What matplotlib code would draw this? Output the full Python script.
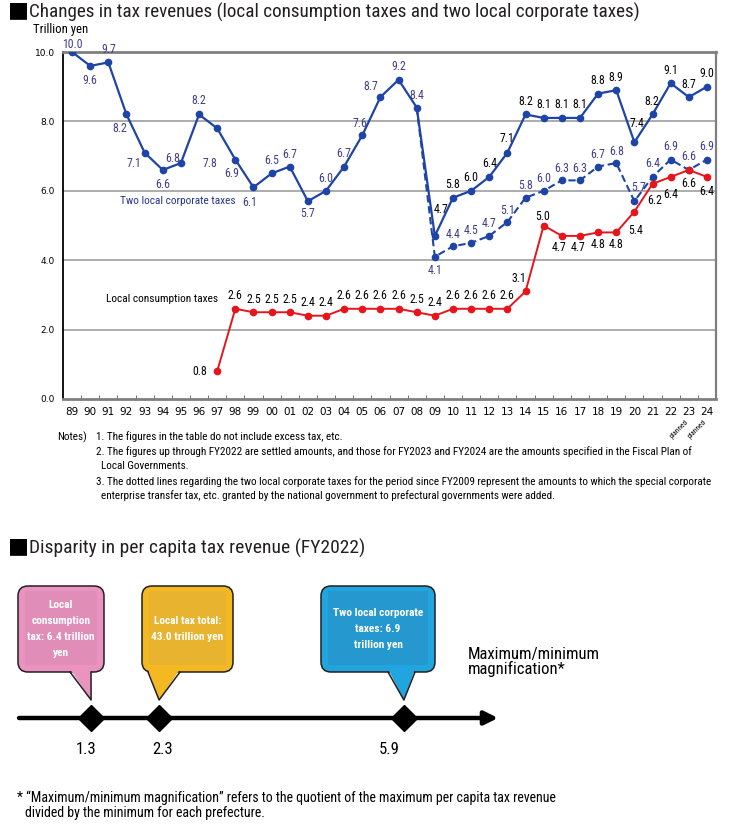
import matplotlib
matplotlib.use("Agg")
import matplotlib.pyplot as plt
from matplotlib.patches import FancyBboxPatch, Polygon, Rectangle

plt.rcParams['font.family'] = ['Roboto Condensed', 'PT Sans Narrow', 'Archivo Narrow',
                               'Liberation Sans Narrow', 'DejaVu Sans']

# ---------- DATA ----------
years = ["89", "90", "91", "92", "93", "94", "95", "96", "97", "98", "99",
         "00", "01", "02", "03", "04", "05", "06", "07", "08", "09", "10",
         "11", "12", "13", "14", "15", "16", "17", "18", "19", "20", "21",
         "22", "23", "24"]
planned_years = ["23", "24"]

# two local corporate taxes (trillion yen), FY1989-FY2024
corporate = [10.0, 9.6, 9.7, 8.2, 7.1, 6.6, 6.8, 8.2, 7.8, 6.9, 6.1,
             6.5, 6.7, 5.7, 6.0, 6.7, 7.6, 8.7, 9.2, 8.4, 4.7, 5.8,
             6.0, 6.4, 7.1, 8.2, 8.1, 8.1, 8.1, 8.8, 8.9, 7.4, 8.2,
             9.1, 8.7, 9.0]
# incl. special corporate enterprise transfer tax, FY2009-FY2024
corporate_added_start = "09"
corporate_added = [4.1, 4.4, 4.5, 4.7, 5.1, 5.8, 6.0, 6.3, 6.3, 6.7, 6.8,
                   5.7, 6.4, 6.9, 6.6, 6.9]
# local consumption taxes, FY1997-FY2024
consumption_start = "97"
consumption = [0.8, 2.6, 2.5, 2.5, 2.5, 2.4, 2.4, 2.6, 2.6, 2.6, 2.6,
               2.5, 2.4, 2.6, 2.6, 2.6, 2.6, 3.1, 5.0, 4.7, 4.7, 4.8,
               4.8, 5.4, 6.2, 6.4, 6.6, 6.4]

ratio_names = ["Local\nconsumption\ntax: 6.4 trillion\nyen",
               "Local tax total:\n43.0 trillion yen",
               "Two local corporate\ntaxes: 6.9\ntrillion yen"]
ratios = [1.3, 2.3, 5.9]

notes = [
    "1. The figures in the table do not include excess tax, etc.",
    "2. The figures up through FY2022 are settled amounts, and those for FY2023 and FY2024 are the amounts specified in the Fiscal Plan of",
    "  Local Governments.",
    "3. The dotted lines regarding the two local corporate taxes for the period since FY2009 represent the amounts to which the special corporate",
    "  enterprise transfer tax, etc. granted by the national government to prefectural governments were added.",
]

# ---------- LABEL PLACEMENT (pixel offsets) ----------
corp_off = [(0, 8), (0, -15), (0, 13), (-7, -14), (-11, -11), (0, -15), (-8, 5),
            (0, 14), (-7, -35), (-4, -14), (-4, -15), (0, 13), (0, 12), (0, -12),
            (0, 12), (0, 13), (-2, 12), (-10, 11), (0, 13), (0, 12), (6, 26),
            (0, 13), (0, 13), (0, 13), (0, 14), (0, 13), (0, 13), (0, 13),
            (0, 13), (0, 13), (0, 13), (3, 19), (-1, 13), (0, 13), (0, 13), (0, 13)]
added_off = [(0, -14)] + [(0, 12)] * 10 + [(4, 14)] + [(0, 13)] * 4
cons_off = [(-17, 0)] + [(0, 13)] * 16 + [(-7, 13), (-1, 9), (-3, -12), (-2, -12),
            (0, -12), (0, -12), (1, -19), (2, -17), (0, -18), (0, -14), (0, -15)]

BLUE = "#1f44a8"
LBL_BLUE = "#3e3d8c"
RED = "#e8141c"

fig = plt.figure(figsize=(7.34, 8.32), dpi=100)

# overlay in pixel coordinates for titles, notes and the diagram
ov = fig.add_axes([0, 0, 1, 1])
ov.set_xlim(0, 734)
ov.set_ylim(832, 0)
ov.axis("off")

# ---------- LINE CHART ----------
ax = fig.add_axes([63 / 734, 1 - 399 / 832, 653 / 734, 347 / 832])
xs = list(range(len(years)))
i_add = years.index(corporate_added_start)
i_con = years.index(consumption_start)
x_add = xs[i_add:]
x_con = xs[i_con:]

ax.plot(xs, corporate, color=BLUE, lw=1.6, marker="o", ms=4.5, zorder=4)
# dashed line starts from the FY2008 point
ax.plot([xs[i_add - 1]] + x_add, [corporate[i_add - 1]] + corporate_added,
        color=BLUE, lw=1.5, ls=(0, (3.5, 1.8)), zorder=3)
ax.plot(x_add, corporate_added, color=BLUE, lw=0, marker="o", ms=4.5, zorder=3)
ax.plot(x_con, consumption, color=RED, lw=1.4, marker="o", ms=4.5, zorder=4)

k = 0.72  # px -> pt
for i, (x, v) in enumerate(zip(xs, corporate)):
    c = LBL_BLUE if i < i_add else "black"
    dx, dy = corp_off[i]
    ax.annotate(f"{v:.1f}", (x, v), xytext=(dx * k, dy * k), textcoords="offset points",
                ha="center", va="center", fontsize=8.5, color=c, zorder=6)
for i, (x, v) in enumerate(zip(x_add, corporate_added)):
    dx, dy = added_off[i]
    ax.annotate(f"{v:.1f}", (x, v), xytext=(dx * k, dy * k), textcoords="offset points",
                ha="center", va="center", fontsize=8.5, color=LBL_BLUE, zorder=6)
for i, (x, v) in enumerate(zip(x_con, consumption)):
    dx, dy = cons_off[i]
    ax.annotate(f"{v:.1f}", (x, v), xytext=(dx * k, dy * k), textcoords="offset points",
                ha="center", va="center", fontsize=8.5, color="black", zorder=6)

ax.text(5.85, 5.7, "Two local corporate taxes", color="#24378f", fontsize=8.2,
        ha="center", va="center")
ax.text(4.95, 2.88, "Local consumption taxes", color="black", fontsize=8.2,
        ha="center", va="center")

ax.set_xlim(-0.5, len(years) - 0.5)
ax.set_ylim(0, 10)
ax.set_yticks([0, 2, 4, 6, 8, 10])
ax.set_yticklabels([f"{t:.1f}" for t in [0, 2, 4, 6, 8, 10]], fontsize=6.5,
                   family="DejaVu Sans")
ax.set_xticks(xs)
ax.set_xticklabels(years, fontsize=7.5, family="DejaVu Sans")
ax.set_xticks([x + 0.5 for x in xs[:-1]], minor=True)
ax.tick_params(axis="x", which="major", length=0, pad=6)
ax.tick_params(axis="x", which="minor", length=3, direction="in", color="#555555")
ax.tick_params(axis="y", length=0, pad=6)
for y in [2, 4, 6, 8]:
    ax.axhline(y, color="#a6a6a6", lw=1.3, zorder=1)
ax.spines["left"].set_color("black")
ax.spines["left"].set_linewidth(1.3)
for s in ["top", "bottom", "right"]:
    ax.spines[s].set_color("#7f7f7f")
ax.spines["top"].set_linewidth(2)
ax.spines["bottom"].set_linewidth(2)
ax.spines["right"].set_linewidth(1.6)

for y in planned_years:
    ax.text(years.index(y) + 0.05, -0.58, "planned", rotation=45, fontsize=5.2,
            ha="right", va="top", transform=ax.transData, clip_on=False)

ov.text(33, 30, "Trillion yen", fontsize=9.2, va="center", ha="left")

# ---------- TITLES ----------
ov.text(8, 16, "■", fontsize=16, family="DejaVu Sans", va="baseline", ha="left")
ov.text(29, 18, "Changes in tax revenues (local consumption taxes and two local corporate taxes)",
        fontsize=13.8, va="baseline", ha="left", color="#231f20")
ov.text(8, 552, "■", fontsize=16, family="DejaVu Sans", va="baseline", ha="left")
ov.text(29, 554, "Disparity in per capita tax revenue (FY2022)",
        fontsize=14, va="baseline", ha="left", color="#231f20")

# ---------- NOTES ----------
ov.text(57, 437, "Notes)", fontsize=8, va="center", ha="left")
for y, line in zip([437, 452, 466, 482, 496], notes):
    ov.text(96, y, line, fontsize=8, va="center", ha="left")

# ---------- DISPARITY DIAGRAM ----------
V0, V1 = -2.7 / 68, (734 - 2.7) / 68
nl = fig.add_axes([0, 0, 1, 1])
nl.set_xlim(V0, V1)
nl.set_ylim(832, 0)
nl.axis("off")


def px(v):
    return (v - V0) / (V1 - V0) * 734


ov.annotate("", xy=(498, 718), xytext=(19, 718),
            arrowprops=dict(arrowstyle="-|>", lw=3.2, color="black", mutation_scale=20,
                            shrinkA=0, shrinkB=0))
nl.plot(ratios, [718] * len(ratios), ls="none", marker="D", ms=13, color="black", zorder=5)
for v, dx in zip(ratios, [-5, 3, -15]):
    nl.annotate(f"{v:.1f}", (v, 749), xytext=(dx * k, 0), textcoords="offset points",
                fontsize=12, ha="center", va="center")

boxes = [(18, 104, "#eb93c0", "#e08eb7"), (142, 233, "#f4b820", "#e8b32e"),
         (321, 435, "#21a5df", "#2598cf")]
tail_base = [(70, 91), (148, 180), (388, 415)]
for (x0, x1, c_out, c_in), (b0, b1), v, name in zip(boxes, tail_base, ratios, ratio_names):
    y0, y1 = 586, 672
    ov.add_patch(FancyBboxPatch((x0 + 10, y0 + 10), x1 - x0 - 20, y1 - y0 - 20,
                                boxstyle="round,pad=10", fc=c_out, ec="#231f20", lw=1.1))
    ov.add_patch(Rectangle((x0 + 7, y0 + 5), x1 - x0 - 14, y1 - y0 - 12, fc=c_in, ec="none"))
    tip = (px(v), 700)
    ov.add_patch(Polygon([(b0, y1 - 3), (b1, y1 - 3), tip], closed=True, fc=c_out, ec="none"))
    ov.plot([b0, tip[0], b1], [y1, tip[1], y1], color="#231f20", lw=1.1)
    ov.text((x0 + x1) / 2, (y0 + y1) / 2, name, color="white", fontsize=8.2,
            fontweight="bold", ha="center", va="center", linespacing=1.75)

ov.text(468, 654, "Maximum/minimum", fontsize=12, va="center", ha="left")
ov.text(468, 669, "magnification*", fontsize=12, va="center", ha="left")

ov.text(17, 798, "* \u201cMaximum/minimum magnification\u201d refers to the quotient of the maximum per capita tax revenue",
        fontsize=10, va="center", ha="left")
ov.text(25, 813, "divided by the minimum for each prefecture.", fontsize=10, va="center", ha="left")

fig.savefig("out.png", dpi=100)
